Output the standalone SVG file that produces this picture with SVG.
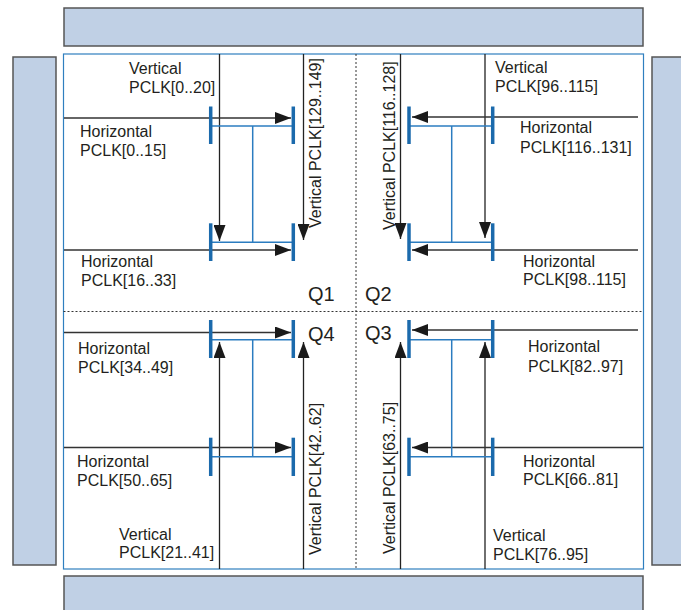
<svg xmlns="http://www.w3.org/2000/svg" width="681" height="610" viewBox="0 0 681 610">
<defs>
<marker id="ah" viewBox="0 0 16 12" refX="16" refY="6" markerWidth="16" markerHeight="12" markerUnits="userSpaceOnUse" orient="auto">
<path d="M0,0 L16,6 L0,12 Z" fill="#1a1a1a"/>
</marker>
<style>
.bar{fill:#c0d0e5;stroke:#555;stroke-width:1.5}
.frame{fill:#fff;stroke:#2f7fbf;stroke-width:1.2}
.dot{stroke:#333;stroke-width:1;stroke-dasharray:2,2;fill:none}
.wire{stroke:#222;stroke-width:1.3;fill:none}
.arr{stroke:#333;stroke-width:1.3;fill:none;marker-end:url(#ah)}
.mux{stroke:#1b6aac;stroke-width:3.5;fill:none}
.bl{stroke:#2b7cc0;stroke-width:1.5;fill:none}
text{font-family:"Liberation Sans",Arial,sans-serif;font-size:16px;fill:#231f20}
.q{font-size:20px}
</style>
</defs>
<g id="bars">
<rect class="bar" x="64" y="8" width="579" height="38"/>
<rect class="bar" x="13" y="57" width="43" height="508"/>
<rect class="bar" x="652" y="57" width="40" height="508"/>
<rect class="bar" x="64" y="576" width="579" height="50"/>
</g>
<g id="frame">
<rect class="frame" x="63.5" y="54" width="580" height="515"/>
<line class="dot" x1="356" y1="54" x2="356" y2="569"/>
<line class="dot" x1="63.5" y1="311.5" x2="643.5" y2="311.5"/>
</g>
<g id="connectors">
<!-- Q1 -->
<line class="wire" x1="219.5" y1="54" x2="219.5" y2="241" marker-end="url(#ah)"/>
<line class="wire" x1="303.5" y1="54" x2="303.5" y2="240" marker-end="url(#ah)"/>
<line class="arr" x1="64" y1="118" x2="291" y2="118"/>
<line class="arr" x1="64" y1="250" x2="291" y2="250"/>
<!-- Q2 -->
<line class="wire" x1="400.5" y1="54" x2="400.5" y2="239" marker-end="url(#ah)"/>
<line class="wire" x1="485" y1="54" x2="485" y2="238" marker-end="url(#ah)"/>
<line class="arr" x1="638" y1="117" x2="412" y2="117"/>
<line class="arr" x1="638" y1="250" x2="412" y2="250"/>
<!-- Q4 -->
<line class="wire" x1="219.5" y1="569" x2="219.5" y2="342" marker-end="url(#ah)"/>
<line class="wire" x1="303.5" y1="569" x2="303.5" y2="342" marker-end="url(#ah)"/>
<line class="arr" x1="64" y1="332.5" x2="291" y2="332.5"/>
<line class="arr" x1="64" y1="447.5" x2="291" y2="447.5"/>
<!-- Q3 -->
<line class="wire" x1="400.5" y1="569" x2="400.5" y2="342" marker-end="url(#ah)"/>
<line class="wire" x1="485" y1="569" x2="485" y2="342" marker-end="url(#ah)"/>
<line class="arr" x1="638" y1="330" x2="412" y2="330"/>
<line class="arr" x1="643" y1="447.5" x2="412" y2="447.5"/>
</g>
<g id="q1-mux">
<line class="bl" x1="211" y1="126" x2="293" y2="126"/>
<line class="bl" x1="252.7" y1="126" x2="252.7" y2="242.3"/>
<line class="bl" x1="211" y1="242.3" x2="293" y2="242.3"/>
<line class="mux" x1="210.7" y1="106.5" x2="210.7" y2="144"/>
<line class="mux" x1="293.3" y1="106.5" x2="293.3" y2="144"/>
<line class="mux" x1="210.7" y1="223.3" x2="210.7" y2="261"/>
<line class="mux" x1="293.3" y1="223.3" x2="293.3" y2="261"/>
</g>
<g id="q2-mux">
<line class="bl" x1="409" y1="126" x2="492.7" y2="126"/>
<line class="bl" x1="451.7" y1="126" x2="451.7" y2="242.3"/>
<line class="bl" x1="409" y1="242.3" x2="492.7" y2="242.3"/>
<line class="mux" x1="409" y1="106.5" x2="409" y2="144"/>
<line class="mux" x1="492.7" y1="106.5" x2="492.7" y2="144"/>
<line class="mux" x1="409" y1="223.3" x2="409" y2="261"/>
<line class="mux" x1="492.7" y1="223.3" x2="492.7" y2="261"/>
</g>
<g id="q4-mux">
<line class="bl" x1="211" y1="339.7" x2="293" y2="339.7"/>
<line class="bl" x1="252.7" y1="339.7" x2="252.7" y2="456.7"/>
<line class="bl" x1="211" y1="456.7" x2="293" y2="456.7"/>
<line class="mux" x1="210.7" y1="320" x2="210.7" y2="358"/>
<line class="mux" x1="293.3" y1="320" x2="293.3" y2="358"/>
<line class="mux" x1="210.7" y1="437.7" x2="210.7" y2="476"/>
<line class="mux" x1="293.3" y1="437.7" x2="293.3" y2="476"/>
</g>
<g id="q3-mux">
<line class="bl" x1="409" y1="339.7" x2="492.7" y2="339.7"/>
<line class="bl" x1="451.7" y1="339.7" x2="451.7" y2="456.7"/>
<line class="bl" x1="409" y1="456.7" x2="492.7" y2="456.7"/>
<line class="mux" x1="409" y1="320" x2="409" y2="358"/>
<line class="mux" x1="492.7" y1="320" x2="492.7" y2="358"/>
<line class="mux" x1="409" y1="437.7" x2="409" y2="476"/>
<line class="mux" x1="492.7" y1="437.7" x2="492.7" y2="476"/>
</g>
<g id="q1-labels">
<text x="129" y="74">Vertical</text>
<text x="129" y="93">PCLK[0..20]</text>
<text x="80" y="137">Horizontal</text>
<text x="80" y="156">PCLK[0..15]</text>
<text x="81" y="267">Horizontal</text>
<text x="81" y="286">PCLK[16..33]</text>
<text transform="translate(321,228) rotate(-90)">Vertical PCLK[129..149]</text>
<text class="q" x="308" y="301">Q1</text>
</g>
<g id="q2-labels">
<text x="495" y="73">Vertical</text>
<text x="495" y="92">PCLK[96..115]</text>
<text x="520" y="133">Horizontal</text>
<text x="520" y="153">PCLK[116..131]</text>
<text x="523" y="267">Horizontal</text>
<text x="523" y="285">PCLK[98..115]</text>
<text transform="translate(395,230) rotate(-90)">Vertical PCLK[116..128]</text>
<text class="q" x="365" y="301">Q2</text>
</g>
<g id="q4-labels">
<text x="78" y="354">Horizontal</text>
<text x="78" y="373">PCLK[34..49]</text>
<text x="77" y="467">Horizontal</text>
<text x="77" y="486">PCLK[50..65]</text>
<text x="119" y="540">Vertical</text>
<text x="119" y="558">PCLK[21..41]</text>
<text transform="translate(321,555) rotate(-90)">Vertical PCLK[42..62]</text>
<text class="q" x="308" y="341">Q4</text>
</g>
<g id="q3-labels">
<text x="528" y="352">Horizontal</text>
<text x="528" y="372">PCLK[82..97]</text>
<text x="523" y="467">Horizontal</text>
<text x="523" y="485">PCLK[66..81]</text>
<text x="493" y="541">Vertical</text>
<text x="493" y="560">PCLK[76..95]</text>
<text transform="translate(395,554) rotate(-90)">Vertical PCLK[63..75]</text>
<text class="q" x="365" y="340">Q3</text>
</g>
</svg>
